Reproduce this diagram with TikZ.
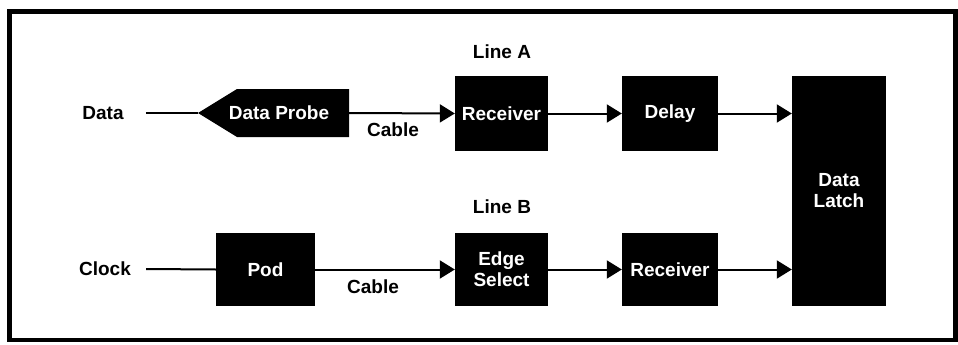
\documentclass[tikz,border=0pt]{standalone}
\usepackage{fontspec}
\setmainfont{Liberation Sans}
\usetikzlibrary{arrows.meta}
\begin{document}
\begin{tikzpicture}[x=1pt,y=-1pt,
  blk/.style={fill=black,text=white,font=\fontsize{19}{21}\selectfont\bfseries,inner sep=0pt,align=center},
  lbl/.style={font=\fontsize{19}{21}\selectfont\bfseries,inner sep=0pt,align=center},
  wire/.style={line width=2pt},
  arr/.style={line width=2pt,-{Triangle[length=15pt,width=18pt]}}]
\useasboundingbox (0,0) rectangle (958,345);
\draw[line width=4.5pt] (9.5,11.5) rectangle (955.5,340);
% labels
\node[lbl] (lineA) at (502,52) {Line A};
\node[lbl] (lineB) at (502,207) {Line B};
\node[lbl] (dataL) at (103,113) {Data};
\node[lbl] (clockL) at (105,269) {Clock};
\node[lbl] (cableA) at (393,130) {Cable};
\node[lbl] (cableB) at (373,287) {Cable};
% data probe
\coordinate (probeT) at (198,113);
\coordinate (probeR) at (349,113);
\fill (237,89) -- (349,89) -- (349,137) -- (237,137) -- (probeT) -- cycle;
\node[lbl,text=white] (probe) at (279,113) {Data Probe};
% blocks
\node[blk,minimum width=93pt,minimum height=75pt] (recA) at (501.5,113.5) {Receiver};
\node[blk,minimum width=96pt,minimum height=75pt] (delay) at (670,113.5) {Delay};
\node[blk,minimum width=94pt,minimum height=230pt] (latch) at (839,191) {Data\\Latch};
\node[blk,minimum width=99pt,minimum height=73pt] (pod) at (265.5,269.5) {Pod};
\node[blk,minimum width=93pt,minimum height=73pt] (edge) at (501.5,269.5) {Edge\\Select};
\node[blk,minimum width=96pt,minimum height=73pt] (recB) at (670,269.5) {Receiver};
% connectors
\draw[wire] ([xshift=22pt]dataL.east) -- (probeT);
\draw[arr] (probeR) -- (recA.west);
\draw[arr] (recA.east) -- (delay.west);
\draw[arr] (delay.east) -- (delay.east -| latch.west);
\draw[wire] ([xshift=15pt]clockL.east) -- (pod.west);
\draw[arr] (pod.east) -- (edge.west);
\draw[arr] (edge.east) -- (recB.west);
\draw[arr] (recB.east) -- (recB.east -| latch.west);
\end{tikzpicture}
\end{document}
